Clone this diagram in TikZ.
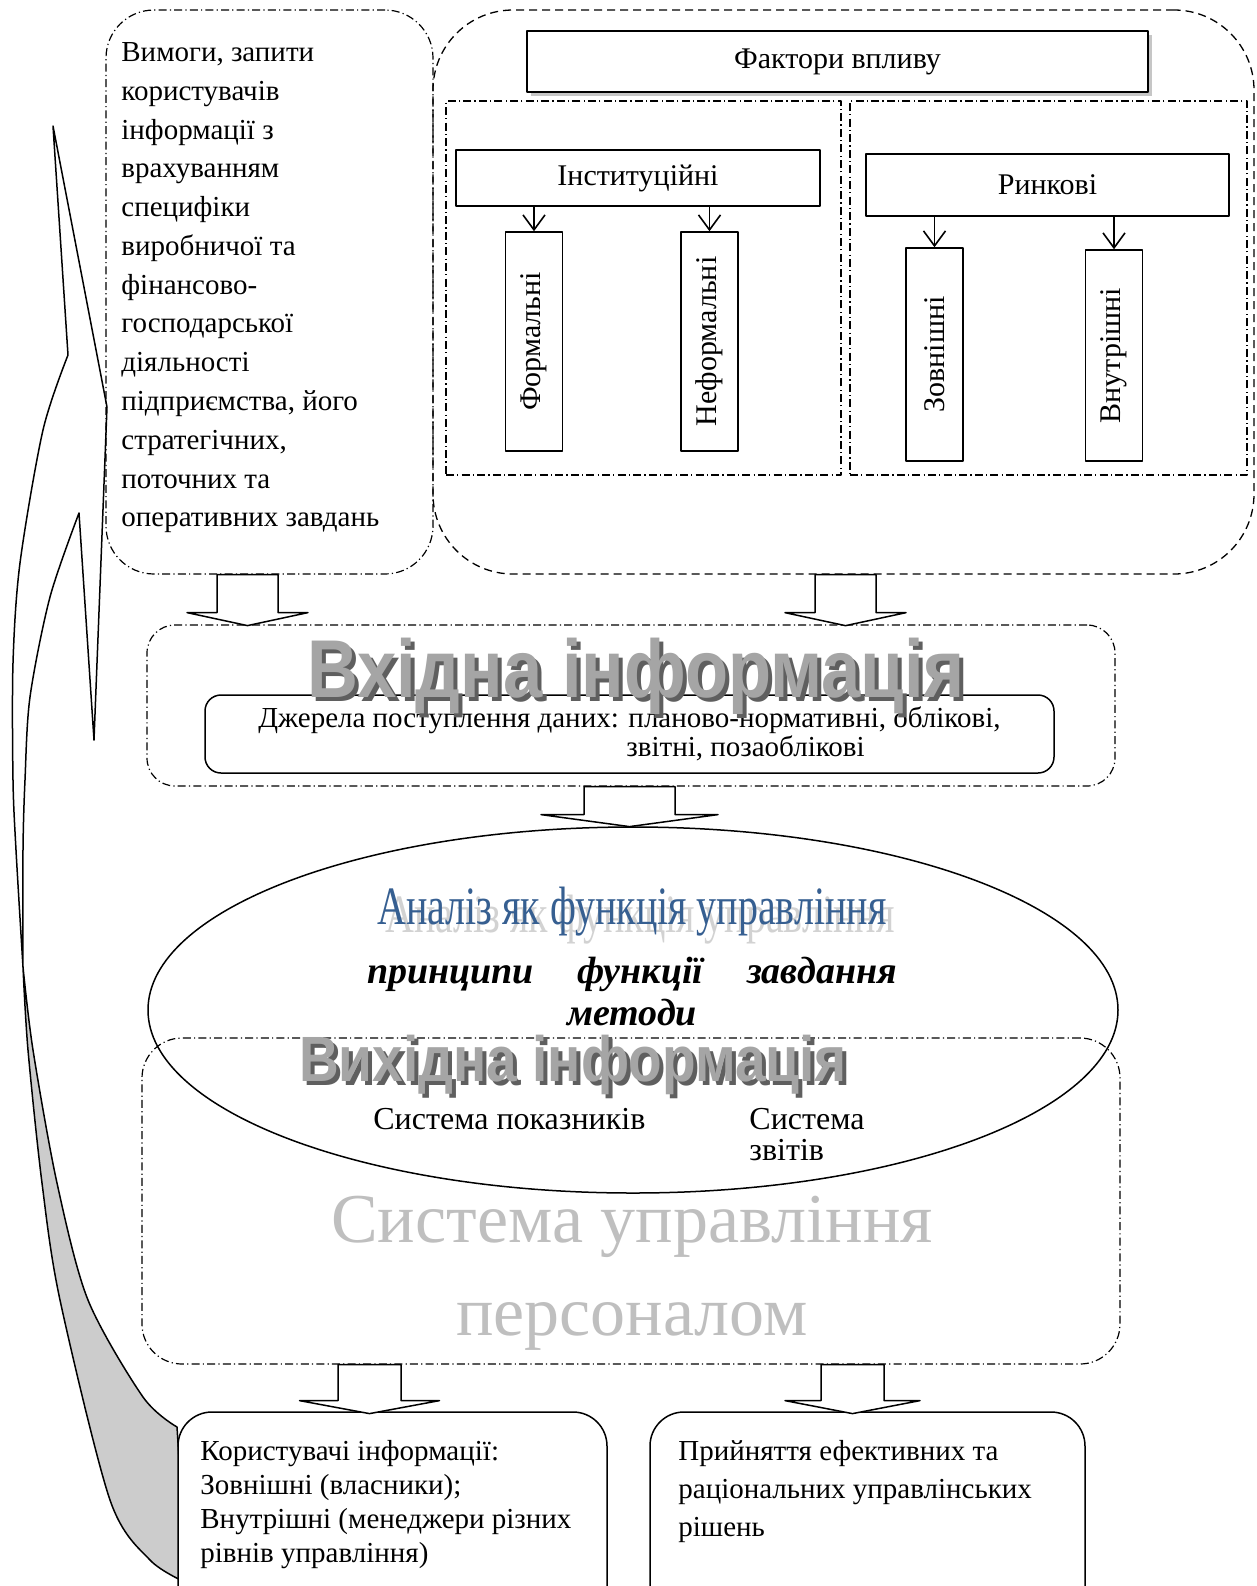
\documentclass[tikz,border=0pt]{standalone}
\usepackage{fontspec}
\setmainfont{Liberation Serif}
\newfontfamily\artfont{Liberation Sans}
\usetikzlibrary{arrows.meta,shapes.geometric,shadows,calc}
\definecolor{analysisblue}{RGB}{54,95,145}
\definecolor{wordgray}{RGB}{165,165,165}
\definecolor{shadowgray}{RGB}{95,95,95}
\tikzset{
  dashdotbox/.style={draw, line width=0.6pt, dash pattern=on 4pt off 1.6pt on 0.6pt off 1.6pt},
  dashbox/.style={draw, line width=0.65pt, dash pattern=on 4pt off 2.5pt},
  solidbox/.style={draw, line width=0.75pt, fill=white},
  factorbox/.style={solidbox, minimum width=28.5pt, font=\fontsize{15}{18}\selectfont},
  barb/.style={-{Straight Barb[length=7.5pt,width=11pt]}, line width=0.8pt},
  blockarrow/.style={draw, fill=white, line width=0.75pt},
  wordart/.style={font=\artfont\bfseries\fontsize{41}{41}\selectfont, inner sep=0},
  outart/.style={font=\artfont\bfseries\fontsize{32}{32}\selectfont, inner sep=0},
  bodytext/.style={anchor=north west, align=left, inner sep=0},
}
% top centre, shaft half width, head half width, shaft length, head length
\newcommand{\hollowarrow}[5]{%
  \draw[blockarrow] #1 ++(-#2,0) -- ++(0,#4) -- ++({#2-#3},0) -- ++(#3,#5)
    -- ++(#3,-#5) -- ++({#2-#3},0) -- ++(0,-#4) -- cycle;}

\begin{document}
\begin{tikzpicture}[x=0.5pt, y=-0.5pt, line join=round]
  \useasboundingbox (0,0) rectangle (1257,1586);
  \fill[white] (0,0) rectangle (1257,1586);
  \clip (0,0) rectangle (1257,1586);

  % curved feedback arrow on the left
  \draw[line width=0.75pt, fill=white] (53,126) -- (68,355)
    -- plot[smooth] coordinates {(68,355) (43,430) (20,563) (13,663) (13,780) (16,850) (23,967)}
    -- plot[smooth] coordinates {(23,967) (23,850) (25,780) (30,697) (50,597) (79,513)}
    -- (94,740) -- (107,407) -- cycle;
  \draw[line width=0.75pt, fill=gray!40]
    plot[smooth] coordinates {(23,967) (33,1050) (57,1183) (88,1300) (143,1397) (177,1427)}
    -- (187,1583)
    -- plot[smooth] coordinates {(187,1583) (150,1560) (110,1500) (60,1300) (42,1183) (28,1050) (23,967)}
    -- cycle;

  % requirements
  \node[dashdotbox, rounded corners=24pt, minimum width=163.5pt, minimum height=282pt] (req) at (269.5,292) {};
  \node[bodytext, font=\fontsize{14.5}{19.4}\selectfont] (reqtext) at (121,42)
    {Вимоги, запити\\користувачів\\інформації з\\врахуванням\\специфіки\\виробничої та\\фінансово-\\господарської\\діяльності\\підприємства, його\\стратегічних,\\поточних та\\оперативних завдань};

  % factors
  \node[dashbox, rounded corners=40pt, minimum width=410.5pt, minimum height=282pt] (factors) at (843.5,292) {};
  \node[dashdotbox, minimum width=197.5pt, minimum height=187pt] (instpanel) at (643.5,288) {};
  \node[dashdotbox, minimum width=198.5pt, minimum height=187pt] (mktpanel) at (1048.5,288) {};
  \node[solidbox, line width=1pt, drop shadow={shadow xshift=2pt, shadow yshift=-2pt, fill=gray!45, opacity=1},
        minimum width=310.5pt, minimum height=30.5pt, font=\fontsize{15}{18}\selectfont] (facttitle) at (837.5,61.5) {Фактори впливу};
  \node[solidbox, minimum width=182pt, minimum height=28pt, font=\fontsize{15}{18}\selectfont] (inst) at (638,178) {Інституційні};
  \node[solidbox, minimum width=181.5pt, minimum height=31pt, font=\fontsize{15}{18}\selectfont] (mkt) at (1047.5,185) {Ринкові};
  \node[factorbox, minimum height=109.5pt] (formal) at (534,341.5) {\rotatebox{90}{Формальні}};
  \node[factorbox, minimum height=109.5pt] (informal) at (709.5,341.5) {\rotatebox{90}{Неформальні}};
  \node[factorbox, minimum height=106.5pt] (ext) at (934.5,354.5) {\rotatebox{90}{Зовнішні}};
  \node[factorbox, minimum height=105.5pt] (int) at (1114,355.5) {\rotatebox{90}{Внутрішні}};
  \foreach \n in {formal,informal}
    \draw[barb] (\n.north |- inst.south) -- (\n.north);
  \foreach \n in {ext,int}
    \draw[barb] (\n.north |- mkt.south) -- (\n.north);

  % input information
  \node[dashdotbox, rounded corners=14pt, minimum width=484pt, minimum height=80.5pt] (inbox) at (631,705.5) {};
  \node[solidbox, rounded corners=8pt, minimum width=424.5pt, minimum height=39pt, align=left,
        font=\fontsize{14.5}{12.5}\selectfont] (sources) at (629.5,734)
    {Джерела поступлення даних: планово-нормативні, облікові,\\\hspace*{184pt}звітні, позаоблікові};
  \node[wordart, text=shadowgray] (inshadow) at (640,680) {\scalebox{0.86}[1]{Вхідна інформація}};
  \node[wordart, text=wordgray] (inhead) at (636,676) {\scalebox{0.86}[1]{Вхідна інформація}};

  % analysis
  \node[draw, ellipse, line width=0.75pt, minimum width=485pt, minimum height=183pt] (analysis) at (633,1010) {};
  \node[text=gray!35, font=\fontsize{27}{27}\selectfont] (anshadow) at (640,920) {\scalebox{0.74}[1]{Аналіз як функція управління}};
  \node[text=analysisblue, font=\fontsize{27}{27}\selectfont] (antitle) at (632,912) {\scalebox{0.74}[1]{Аналіз як функція управління}};
  \node[align=center, font=\bfseries\itshape\fontsize{19}{21}\selectfont] (principles) at (632,992)
    {принципи\hspace{1.15em}функції\hspace{1.15em}завдання\\методи};

  % output information
  \node[dashdotbox, rounded corners=20pt, minimum width=489pt, minimum height=163pt] (outbox) at (631,1201) {};
  \node[outart, text=shadowgray] (outshadow) at (577,1069) {\scalebox{0.86}[1]{Вихідна інформація}};
  \node[outart, text=wordgray] (outhead) at (573,1065) {\scalebox{0.86}[1]{Вихідна інформація}};
  \node[anchor=west, inner sep=0, font=\fontsize{16}{15.5}\selectfont] (indicators) at (373,1119) {Система показників};
  \node[bodytext, font=\fontsize{16}{15.5}\selectfont] (reports) at (749,1108) {Система\\звітів};
  \node[text=gray!50, align=center, font=\fontsize{35}{46.5}\selectfont] (sysname) at (632,1273) {Система управління\\персоналом};

  % results
  \node[solidbox, rounded corners=17pt, minimum width=214.5pt, minimum height=104pt] (users) at (392.5,1516) {};
  \node[bodytext, font=\fontsize{14.5}{17}\selectfont] (userstext) at (200,1440)
    {Користувачі інформації:\\Зовнішні (власники);\\Внутрішні (менеджери різних\\рівнів управління)};
  \node[solidbox, rounded corners=17pt, minimum width=217.5pt, minimum height=104pt] (decisions) at (867.5,1516) {};
  \node[bodytext, font=\fontsize{14.5}{19}\selectfont] (decisionstext) at (678,1440)
    {Прийняття ефективних та\\раціональних управлінських\\рішень};

  % hollow block arrows
  \hollowarrow{($(req.south)+(-22,0)$)}{30.5}{60.5}{38}{13}
  \hollowarrow{($(factors.south)+(2,0)$)}{30.5}{60.5}{38}{13}
  \hollowarrow{($(inbox.south)+(-1.5,0)$)}{45.5}{88.5}{28}{12}
  \hollowarrow{($(outbox.south)+(-261.5,0)$)}{31.5}{70}{36}{13}
  \hollowarrow{($(outbox.south)+(221.5,0)$)}{31.5}{67.5}{36}{13}
\end{tikzpicture}
\end{document}
